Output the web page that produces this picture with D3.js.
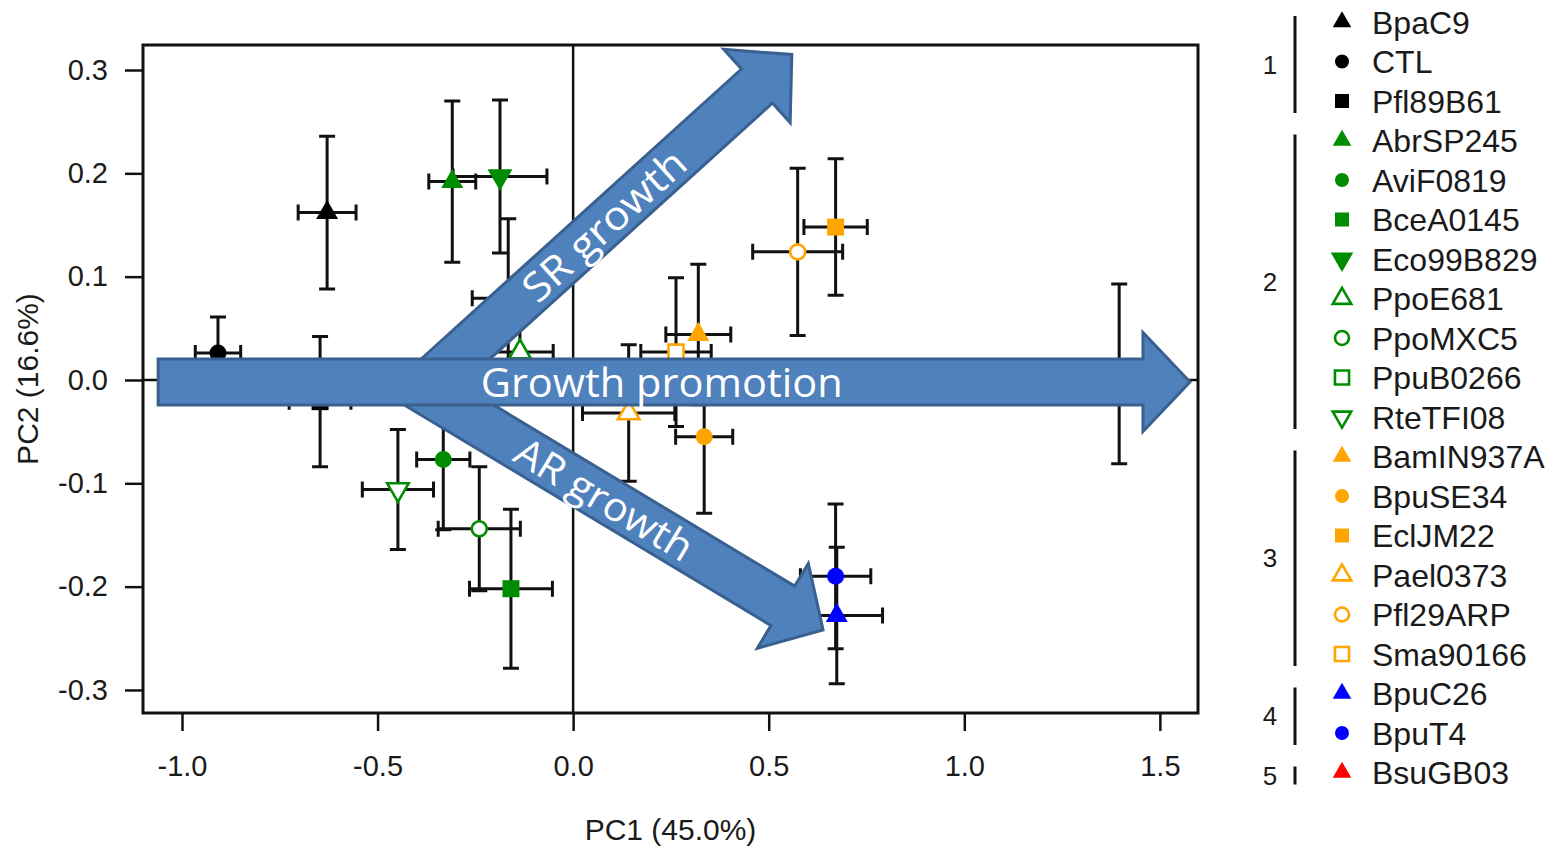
<!DOCTYPE html>
<html>
<head>
<meta charset="utf-8">
<title>PCA growth</title>
<script src="https://d3js.org/d3.v7.min.js"></script>
<style>
  body { margin: 0; background: #fff; }
  text { font-family: "Liberation Sans", Arial, sans-serif; fill: #1a1a1a; }
  .arrow-label { font-family: "Open Sans", sans-serif; fill: #fff; }
</style>
</head>
<body>
<script>
// strains in legend order
var strains = ["BpaC9", "CTL", "Pfl89B61",
  "AbrSP245", "AviF0819", "BceA0145", "Eco99B829", "PpoE681", "PpoMXC5", "PpuB0266", "RteTFI08",
  "BamIN937A", "BpuSE34", "EclJM22", "Pael0373", "Pfl29ARP", "Sma90166",
  "BpuC26", "BpuT4", "BsuGB03"];
var groups = [1, 1, 1, 2, 2, 2, 2, 2, 2, 2, 2, 3, 3, 3, 3, 3, 3, 4, 4, 5];
var shapes = ["up", "circle", "square", "up", "circle", "square", "down", "up", "circle", "square", "down",
  "up", "circle", "square", "up", "circle", "square", "up", "circle", "up"];
var filled = [1, 1, 1, 1, 1, 1, 1, 0, 0, 0, 0, 1, 1, 1, 0, 0, 0, 1, 1, 1];
var groupColors = ["#000000", "#008c00", "#ffa500", "#0000ff", "#ff0000"];

var pc1 = [-0.629, -0.908, -0.647, -0.309, -0.332, -0.159, -0.187, -0.136, -0.240, -0.166, -0.448,
  0.320, 0.335, 0.671, 0.142, 0.574, 0.263, 0.674, 0.671, 1.396];
var pc2 = [0.162, 0.026, -0.021, 0.192, -0.077, -0.202, 0.197, 0.027, -0.144, 0.079, -0.106,
  0.044, -0.055, 0.148, -0.032, 0.124, 0.027, -0.228, -0.190, 0.006];
var pc1Err = [0.074, 0.058, 0.079, 0.060, 0.068, 0.106, 0.120, 0.085, 0.105, 0.092, 0.091,
  0.083, 0.073, 0.081, 0.118, 0.115, 0.090, 0.117, 0.090, 0.100];
var pc2Err = [0.074, 0.035, 0.063, 0.078, 0.068, 0.077, 0.074, 0.050, 0.060, 0.077, 0.058,
  0.068, 0.074, 0.066, 0.066, 0.081, 0.072, 0.066, 0.070, 0.087];

var xTicks = [-1.0, -0.5, 0.0, 0.5, 1.0, 1.5];
var yTicks = [-0.3, -0.2, -0.1, 0.0, 0.1, 0.2, 0.3];

// annotation arrows (PC1, PC2 at tail and tip)
var arrowLabels = ["SR growth", "AR growth", "Growth promotion"];
var arrowTail = [[-0.366, -0.002], [-0.415, -0.002], [-1.061, -0.002]];
var arrowTip = [[0.559, 0.315], [0.639, -0.242], [1.577, -0.002]];
var arrowTextPos = [0.48, 0.47, 0.488];
var arrowTextLen = [205, 200, 362];

var W = 1560, H = 848;
var margin = {left: 143, top: 45},
    width = 1055, height = 668;

var svg = d3.select("body").append("svg")
    .attr("width", W)
    .attr("height", H);
svg.append("rect").attr("width", W).attr("height", H).attr("fill", "#fff");

var x = d3.scaleLinear().domain([-1.0997, 1.5975]).range([margin.left, margin.left + width]);
var y = d3.scaleLinear().domain([-0.3223, 0.3242]).range([margin.top + height, margin.top]);

var fmt = function(d) { return d.toFixed(1); };

// axes
var xAxis = svg.append("g")
    .attr("transform", "translate(0," + (margin.top + height) + ")")
    .call(d3.axisBottom(x).tickValues(xTicks).tickSize(18).tickPadding(24).tickFormat(fmt));
var yAxis = svg.append("g")
    .attr("transform", "translate(" + margin.left + ",0)")
    .call(d3.axisLeft(y).tickValues(yTicks).tickSize(18).tickPadding(17).tickFormat(fmt));
[xAxis, yAxis].forEach(function(a) {
  a.select(".domain").remove();
  a.selectAll("line").attr("stroke", "#111").attr("stroke-width", 2.5);
  a.selectAll("text").attr("font-size", 29).attr("fill", "#1a1a1a")
    .style("font-family", '"Liberation Sans", Arial, sans-serif');
});

svg.append("text")
    .attr("x", margin.left + width / 2)
    .attr("y", 840)
    .attr("text-anchor", "middle")
    .attr("font-size", 30)
    .text("PC1 (45.0%)");
svg.append("text")
    .attr("transform", "translate(38," + (margin.top + height / 2) + ") rotate(-90)")
    .attr("text-anchor", "middle")
    .attr("font-size", 30)
    .text("PC2 (16.6%)");

// zero lines
svg.append("line")
    .attr("x1", x(0)).attr("x2", x(0))
    .attr("y1", margin.top).attr("y2", margin.top + height)
    .attr("stroke", "#111").attr("stroke-width", 2.5);
svg.append("line")
    .attr("x1", margin.left).attr("x2", margin.left + width)
    .attr("y1", y(0)).attr("y2", y(0))
    .attr("stroke", "#111").attr("stroke-width", 2.5);

// error bars
var idx = d3.range(strains.length);
var cap = 8;
var bars = svg.append("g").attr("stroke", "#111").attr("stroke-width", 3).attr("fill", "none");
idx.forEach(function(i) {
  var cx = x(pc1[i]), cy = y(pc2[i]);
  var xl = x(pc1[i] - pc1Err[i]), xr = x(pc1[i] + pc1Err[i]);
  var yt = y(pc2[i] + pc2Err[i]), yb = y(pc2[i] - pc2Err[i]);
  bars.append("path").attr("d",
    "M" + xl + "," + cy + "H" + xr +
    "M" + xl + "," + (cy - cap) + "V" + (cy + cap) +
    "M" + xr + "," + (cy - cap) + "V" + (cy + cap) +
    "M" + cx + "," + yt + "V" + yb +
    "M" + (cx - cap) + "," + yt + "H" + (cx + cap) +
    "M" + (cx - cap) + "," + yb + "H" + (cx + cap));
});

// symbol areas: [plot, legend] x [filled, open]
var symSizes = {
  plot:   {filled: {up: 210, down: 270, circle: 227, square: 289}, open: {up: 200, down: 200, circle: 177, square: 225}},
  legend: {filled: {up: 150, down: 220, circle: 154, square: 196}, open: {up: 148, down: 148, circle: 154, square: 199}}
};
var symTypes = {up: d3.symbolTriangle, down: d3.symbolTriangle, circle: d3.symbolCircle, square: d3.symbolSquare};

function drawMarker(g, i, px, py, where) {
  var col = groupColors[groups[i] - 1];
  var kind = filled[i] ? "filled" : "open";
  var rot = shapes[i] === "down" ? " rotate(180)" : "";
  var p = g.append("path")
      .attr("d", d3.symbol().type(symTypes[shapes[i]]).size(symSizes[where][kind][shapes[i]])())
      .attr("transform", "translate(" + px + "," + py + ")" + rot);
  if (filled[i]) {
    p.attr("fill", col);
  } else {
    p.attr("fill", "#fff").attr("stroke", col).attr("stroke-width", 2.6);
  }
}

var pts = svg.append("g");
idx.forEach(function(i) { drawMarker(pts, i, x(pc1[i]), y(pc2[i]), "plot"); });

// annotation arrows
var bodyHalf = 23, headHalf = 49.5, headLen = 47;
var arrows = svg.append("g");
[0, 1, 2].forEach(function(k) {
  var x0 = x(arrowTail[k][0]), y0 = y(arrowTail[k][1]);
  var x1 = x(arrowTip[k][0]), y1 = y(arrowTip[k][1]);
  var len = Math.hypot(x1 - x0, y1 - y0);
  var ux = (x1 - x0) / len, uy = (y1 - y0) / len;
  var px = -uy, py = ux;
  var bx = x1 - ux * headLen, by = y1 - uy * headLen;
  var poly = [
    [x0 + px * bodyHalf, y0 + py * bodyHalf],
    [bx + px * bodyHalf, by + py * bodyHalf],
    [bx + px * headHalf, by + py * headHalf],
    [x1, y1],
    [bx - px * headHalf, by - py * headHalf],
    [bx - px * bodyHalf, by - py * bodyHalf],
    [x0 - px * bodyHalf, y0 - py * bodyHalf]
  ];
  arrows.append("polygon")
      .attr("points", poly.map(function(p) { return p.join(","); }).join(" "))
      .attr("fill", "#4f81bd")
      .attr("stroke", "#3a6090")
      .attr("stroke-width", 3)
      .attr("stroke-linejoin", "miter");
  var t = arrowTextPos[k];
  var tx = x0 + (x1 - x0) * t, ty = y0 + (y1 - y0) * t;
  var ang = Math.atan2(y1 - y0, x1 - x0) * 180 / Math.PI;
  arrows.append("text")
      .attr("class", "arrow-label")
      .attr("transform", "translate(" + tx + "," + ty + ") rotate(" + ang + ")")
      .attr("y", 15)
      .attr("text-anchor", "middle")
      .attr("font-size", 40)
      .attr("textLength", arrowTextLen[k])
      .attr("lengthAdjust", "spacingAndGlyphs")
      .text(arrowLabels[k]);
});

// frame
svg.append("rect")
    .attr("x", margin.left).attr("y", margin.top)
    .attr("width", width).attr("height", height)
    .attr("fill", "none").attr("stroke", "#111").attr("stroke-width", 3);

// legend
var legendY0 = 22, legendStep = 39.5, legendSymX = 1342, legendTextX = 1372;
var leg = svg.append("g");
idx.forEach(function(i) {
  var ry = legendY0 + i * legendStep;
  drawMarker(leg, i, legendSymX, ry, "legend");
  leg.append("text")
      .attr("x", legendTextX).attr("y", ry + 11.5)
      .attr("font-size", 32)
      .text(strains[i]);
});

// group brackets
var groupIds = [1, 2, 3, 4, 5];
groupIds.forEach(function(g) {
  var rows = idx.filter(function(i) { return groups[i] === g; });
  var top = legendY0 + d3.min(rows) * legendStep - 6;
  var bot = legendY0 + d3.max(rows) * legendStep + 12;
  leg.append("line")
      .attr("x1", 1295).attr("x2", 1295)
      .attr("y1", top).attr("y2", bot)
      .attr("stroke", "#111").attr("stroke-width", 3);
  leg.append("text")
      .attr("x", 1270).attr("y", (top + bot) / 2 + 9)
      .attr("text-anchor", "middle")
      .attr("font-size", 26)
      .text(g);
});
</script>
</body>
</html>
